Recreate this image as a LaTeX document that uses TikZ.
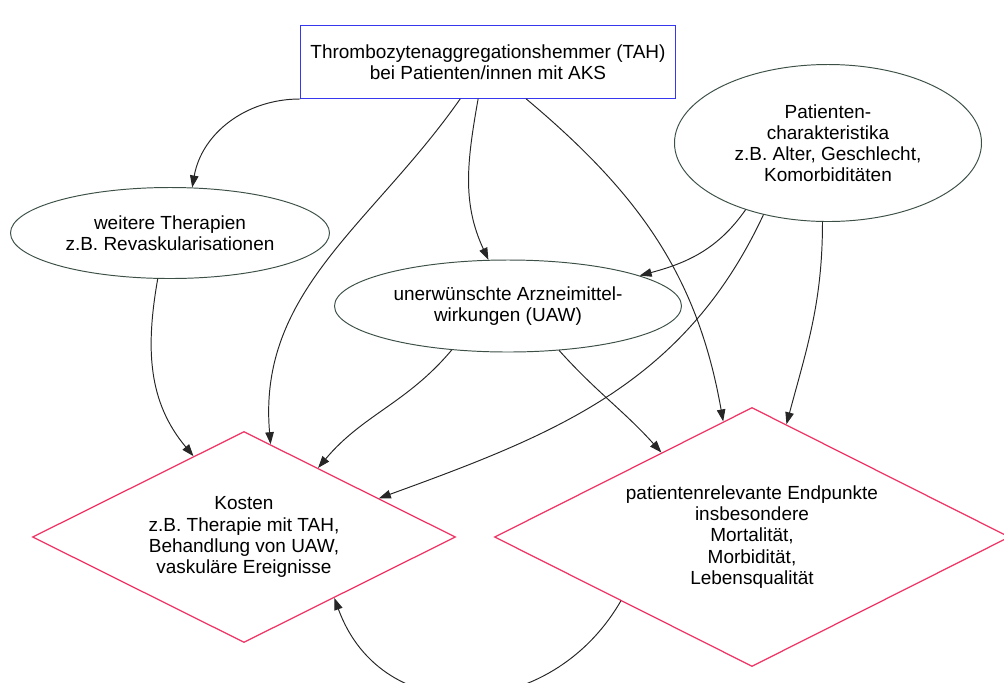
\documentclass[tikz,border=0pt]{standalone}
\usepackage{fontspec}
\setmainfont{Liberation Sans}
\usepackage{tikz}
\usetikzlibrary{arrows.meta}
\usetikzlibrary{shapes.geometric}
\definecolor{tahblue}{RGB}{55,55,240}
\definecolor{ellgray}{RGB}{60,80,70}
\definecolor{diared}{RGB}{240,50,100}
\tikzset{>={Triangle[length=0.24cm,width=0.17cm]}}

\begin{document}
\begin{tikzpicture}[line cap=round,line width=0.55pt,
  every node/.style={font=\fontsize{10.8}{12}\selectfont,align=center,inner sep=0pt},
  tahbox/.style={draw=tahblue,rectangle,minimum width=7.5cm,minimum height=1.46cm},
  ellbox/.style={draw=ellgray,ellipse},
  diabox/.style={draw=diared,diamond,aspect=2,line width=0.7pt},
  conn/.style={->,black!85}]

  \useasboundingbox (0,0) rectangle (20.08,-13.64);

  \node [tahbox] (tah) at (9.76,-1.24)
    {Thrombozytenaggregationshemmer (TAH)\\bei Patienten/innen mit AKS};
  \node [ellbox,minimum width=6.14cm,minimum height=3.14cm] (pat) at (16.56,-2.86)
    {Patienten-\\charakteristika\\z.B. Alter, Geschlecht,\\Komorbiditäten};
  \node [ellbox,minimum width=6.38cm,minimum height=1.82cm] (weit) at (3.4,-4.66)
    {weitere Therapien\\z.B. Revaskularisationen};
  \node [ellbox,minimum width=6.94cm,minimum height=1.84cm] (uaw) at (10.16,-6.12)
    {unerwünschte Arzneimittel-\\wirkungen (UAW)};
  \node [diabox,minimum width=8.46cm,minimum height=4.22cm] (kost) at (4.88,-10.74)
    {Kosten\\z.B. Therapie mit TAH,\\Behandlung von UAW,\\vaskuläre Ereignisse};
  \node [diabox,minimum width=10.3cm,minimum height=5.18cm] (endp) at (15.04,-10.74)
    {patientenrelevante Endpunkte\\insbesondere\\Mortalität,\\Morbidität,\\Lebensqualität};


  % von TAH
  \draw [conn] (tah.south west) to[out=180,in=80] (weit.64);
  \draw [conn] (tah.233) to[out=235,in=95] (kost.74);
  \draw [conn] (tah.255) to[out=260,in=115] (uaw.113);
  \draw [conn] (tah.316) to[out=320,in=100] (endp.104);

  % von Patientencharakteristika
  \draw [conn] (pat.219) to[out=235,in=15] (uaw.13);
  \draw [conn] (pat.228) to[out=245,in=20] (kost.16);
  \draw [conn] (pat.266) to[out=270,in=75] (endp.73);

  \draw [conn] (weit.255) to[out=260,in=130] (kost.122);
  \draw [conn] (uaw.218) to[out=230,in=50] (kost.43);
  \draw [conn] (uaw.319) to[out=312,in=132] (endp.137);

  %\draw [conn] (kost) -- (endp);
  \draw [conn] (endp.206) to[out=240,in=290,looseness=1.25] (kost.326);

\end{tikzpicture}
\end{document}
